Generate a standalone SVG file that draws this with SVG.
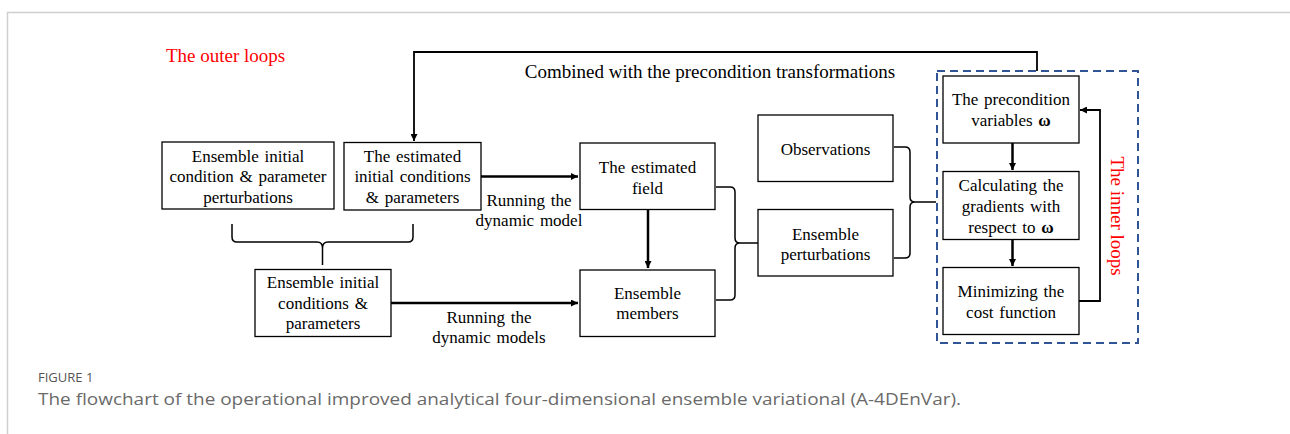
<svg xmlns="http://www.w3.org/2000/svg" width="1290" height="434" viewBox="0 0 1290 434">
<defs>
<marker id="ah" viewBox="0 0 10 10" refX="10" refY="5" markerWidth="8" markerHeight="7" markerUnits="userSpaceOnUse" orient="auto">
<path d="M0,0 L10,5 L0,10 z" fill="#000"/>
</marker>
<style>
.box{fill:#fff;stroke:#000;stroke-width:1.3}
.t{font-family:"Liberation Serif","Times New Roman",serif;font-size:17px;fill:#000;text-anchor:middle;word-spacing:1.5px}
.red{font-family:"Liberation Serif","Times New Roman",serif;font-size:19px;fill:#ff0000}
.big{font-family:"Liberation Serif","Times New Roman",serif;font-size:19px;fill:#000;text-anchor:middle}
.thick{fill:none;stroke:#000;stroke-width:2.5}
.thin{fill:none;stroke:#000;stroke-width:1.8}
.brace{fill:none;stroke:#000;stroke-width:1.5}
.cap{font-family:"Open Sans","Noto Sans",sans-serif}
</style>
</defs>
<rect width="1290" height="434" fill="#fff"/>
<path d="M7.5,434 V12.5 H1290" fill="none" stroke="#cfcfcf" stroke-width="1.5"/>

<text class="red" x="166" y="62">The outer loops</text>
<text class="big" x="710" y="78">Combined with the precondition transformations</text>

<g id="connectors">
<path class="thin" d="M1037,71 V52 H414 V141" marker-end="url(#ah)"/>
<path class="thick" d="M481,176.5 H578" marker-end="url(#ah)"/>
<path class="thick" d="M648,210 V268" marker-end="url(#ah)"/>
<path class="thick" d="M391,303 H578" marker-end="url(#ah)"/>
<path class="thick" d="M1012.5,143 V170" marker-end="url(#ah)"/>
<path class="thick" d="M1012.5,240 V266" marker-end="url(#ah)"/>
<path class="thin" d="M1079,301 H1100 V110 H1080" marker-end="url(#ah)"/>
<path class="brace" d="M232,224 V237 Q232,242 237,242 H317 Q322.5,242 322.5,248 V265 M322.5,248 Q322.5,242 328,242 H408 Q413,242 413,237 V224"/>
<path class="brace" d="M716,187 H730 Q735,187 735,192 V238 Q735,243 740,243 H758 M740,243 Q735,243 735,248 V295 Q735,300 730,300 H716"/>
<path class="brace" d="M894,147 H905 Q910,147 910,152 V197 Q910,202 915,202 H936 M915,202 Q910,202 910,207 V253 Q910,258 905,258 H894"/>
</g>

<g id="node-ens-pert-init">
<rect class="box" x="162" y="142" width="172" height="67"/>
<text class="t" x="248" y="162">Ensemble initial</text>
<text class="t" x="248" y="182">condition &amp; parameter</text>
<text class="t" x="248" y="203">perturbations</text>
</g>
<g id="node-est-init">
<rect class="box" x="344" y="142.5" width="137" height="67.5"/>
<text class="t" x="412.5" y="162">The estimated</text>
<text class="t" x="412.5" y="182">initial conditions</text>
<text class="t" x="412.5" y="203">&amp; parameters</text>
</g>
<text class="t" x="529" y="206">Running the</text>
<text class="t" x="529" y="226">dynamic model</text>
<g id="node-ens-init">
<rect class="box" x="255" y="269.5" width="136" height="67"/>
<text class="t" x="323" y="287.5">Ensemble initial</text>
<text class="t" x="323" y="309">conditions &amp;</text>
<text class="t" x="323" y="329">parameters</text>
</g>
<text class="t" x="489" y="323">Running the</text>
<text class="t" x="489" y="343">dynamic models</text>
<g id="node-est-field">
<rect class="box" x="580" y="143" width="135" height="66.5"/>
<text class="t" x="647.5" y="173">The estimated</text>
<text class="t" x="647.5" y="193.5">field</text>
</g>
<g id="node-ens-members">
<rect class="box" x="580" y="270" width="135" height="66.5"/>
<text class="t" x="647.5" y="298.5">Ensemble</text>
<text class="t" x="647.5" y="318.5">members</text>
</g>
<g id="node-obs">
<rect class="box" x="758" y="115" width="135" height="66.5"/>
<text class="t" x="825.5" y="154.5">Observations</text>
</g>
<g id="node-ens-pert">
<rect class="box" x="758" y="209.5" width="135" height="66.5"/>
<text class="t" x="825.5" y="240">Ensemble</text>
<text class="t" x="825.5" y="259.5">perturbations</text>
</g>

<g id="inner-loops">
<rect x="937" y="71" width="201" height="272" fill="none" stroke="#2f5597" stroke-width="2" stroke-dasharray="8,5"/>
<text class="red" transform="translate(1111,216) rotate(90)" text-anchor="middle">The inner loops</text>
</g>
<g id="node-precond">
<rect class="box" x="943" y="76" width="136" height="67"/>
<text class="t" x="1011" y="105">The precondition</text>
<text class="t" x="1011" y="126">variables <tspan font-weight="bold">ω</tspan></text>
</g>
<g id="node-grad">
<rect class="box" x="943" y="171.5" width="136" height="68"/>
<text class="t" x="1011" y="191">Calculating the</text>
<text class="t" x="1011" y="212">gradients with</text>
<text class="t" x="1011" y="233">respect to <tspan font-weight="bold">ω</tspan></text>
</g>
<g id="node-min">
<rect class="box" x="943" y="267.5" width="136" height="67"/>
<text class="t" x="1011" y="297">Minimizing the</text>
<text class="t" x="1011" y="318">cost function</text>
</g>

<text class="cap" x="38" y="382" font-size="13" fill="#555">FIGURE 1</text>
<text class="cap" x="38" y="405" font-size="15.5" fill="#6a6a6a" textLength="923" lengthAdjust="spacingAndGlyphs">The flowchart of the operational improved analytical four-dimensional ensemble variational (A-4DEnVar).</text>
</svg>
